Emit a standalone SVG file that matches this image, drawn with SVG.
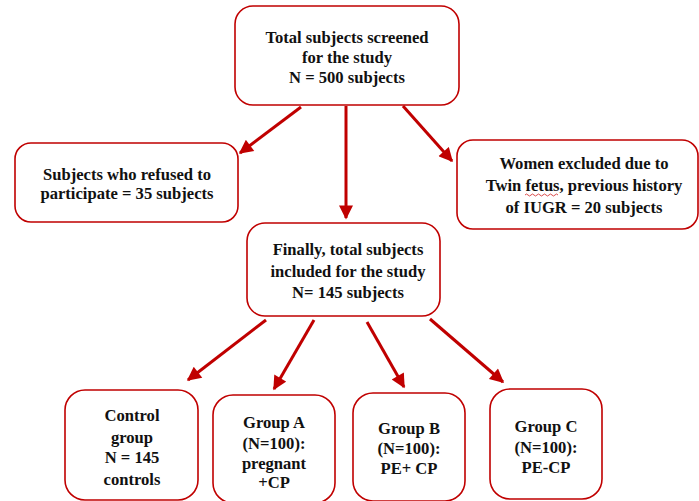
<svg xmlns="http://www.w3.org/2000/svg" width="699" height="501" viewBox="0 0 699 501">
<style>
.box{fill:#fff;stroke:#c00000;stroke-width:1.6}
.t{font-family:"Liberation Serif","Times New Roman",serif;font-weight:bold;font-size:16.6px;fill:#111;text-anchor:middle}
.c{stroke:#c00000;stroke-width:3;fill:none;marker-end:url(#ah)}
</style>
<defs>
<marker id="ah" viewBox="0 0 10 10" refX="9" refY="5" markerUnits="userSpaceOnUse" markerWidth="16" markerHeight="14" orient="auto">
<path d="M0,0 L10,5 L0,10 z" fill="#c00000"/>
</marker>
</defs>
<rect width="699" height="501" fill="#fff"/>
<g id="connectors">
<line class="c" x1="301" y1="107" x2="240" y2="153"/>
<line class="c" x1="346" y1="106" x2="346" y2="218"/>
<line class="c" x1="403" y1="106" x2="452" y2="161"/>
<line class="c" x1="266" y1="320" x2="188" y2="380"/>
<line class="c" x1="314" y1="320" x2="274" y2="389"/>
<line class="c" x1="367" y1="322" x2="404" y2="387"/>
<line class="c" x1="430" y1="319" x2="503" y2="382"/>
</g>
<g id="screened">
<rect class="box" x="235" y="6" width="224" height="99" rx="18"/>
<text class="t" x="347" y="43">Total subjects screened</text>
<text class="t" x="347" y="63">for the study</text>
<text class="t" x="347" y="83">N = 500 subjects</text>
</g>
<g id="refused">
<rect class="box" x="15" y="143" width="223" height="79" rx="16"/>
<text class="t" x="127" y="180">Subjects who refused to</text>
<text class="t" x="127" y="199">participate = 35 subjects</text>
</g>
<g id="excluded">
<rect class="box" x="457" y="140" width="241" height="89" rx="16"/>
<text class="t" x="584" y="169">Women excluded due to</text>
<text class="t" x="584" y="191">Twin fetus, previous history</text>
<text class="t" x="584" y="213">of IUGR = 20 subjects</text>
<path d="M525,195 q1.5,-2 3,0 t3,0 t3,0 t3,0 t3,0 t3,0 t3,0 t3,0 t3,0 t3,0 t3,0" fill="none" stroke="#d02020" stroke-width="0.8"/>
</g>
<g id="included">
<rect class="box" x="247" y="223" width="193" height="93" rx="18"/>
<text class="t" x="348" y="255">Finally, total subjects</text>
<text class="t" x="348" y="277">included for the study</text>
<text class="t" x="348" y="298">N= 145 subjects</text>
</g>
<g id="control">
<rect class="box" x="65" y="390" width="133" height="110" rx="20"/>
<text class="t" x="132" y="421">Control</text>
<text class="t" x="132" y="443">group</text>
<text class="t" x="132" y="463">N = 145</text>
<text class="t" x="132" y="485">controls</text>
</g>
<g id="groupA">
<rect class="box" x="213" y="395" width="122" height="108" rx="20"/>
<text class="t" x="274" y="428">Group A</text>
<text class="t" x="274" y="449">(N=100):</text>
<text class="t" x="274" y="469">pregnant</text>
<text class="t" x="274" y="488">+CP</text>
</g>
<g id="groupB">
<rect class="box" x="353" y="393" width="112" height="108" rx="20"/>
<text class="t" x="409" y="434">Group B</text>
<text class="t" x="409" y="454">(N=100):</text>
<text class="t" x="409" y="474">PE+ CP</text>
</g>
<g id="groupC">
<rect class="box" x="490" y="389" width="112" height="110" rx="20"/>
<text class="t" x="546" y="432">Group C</text>
<text class="t" x="546" y="453">(N=100):</text>
<text class="t" x="546" y="473">PE-CP</text>
</g>
</svg>
